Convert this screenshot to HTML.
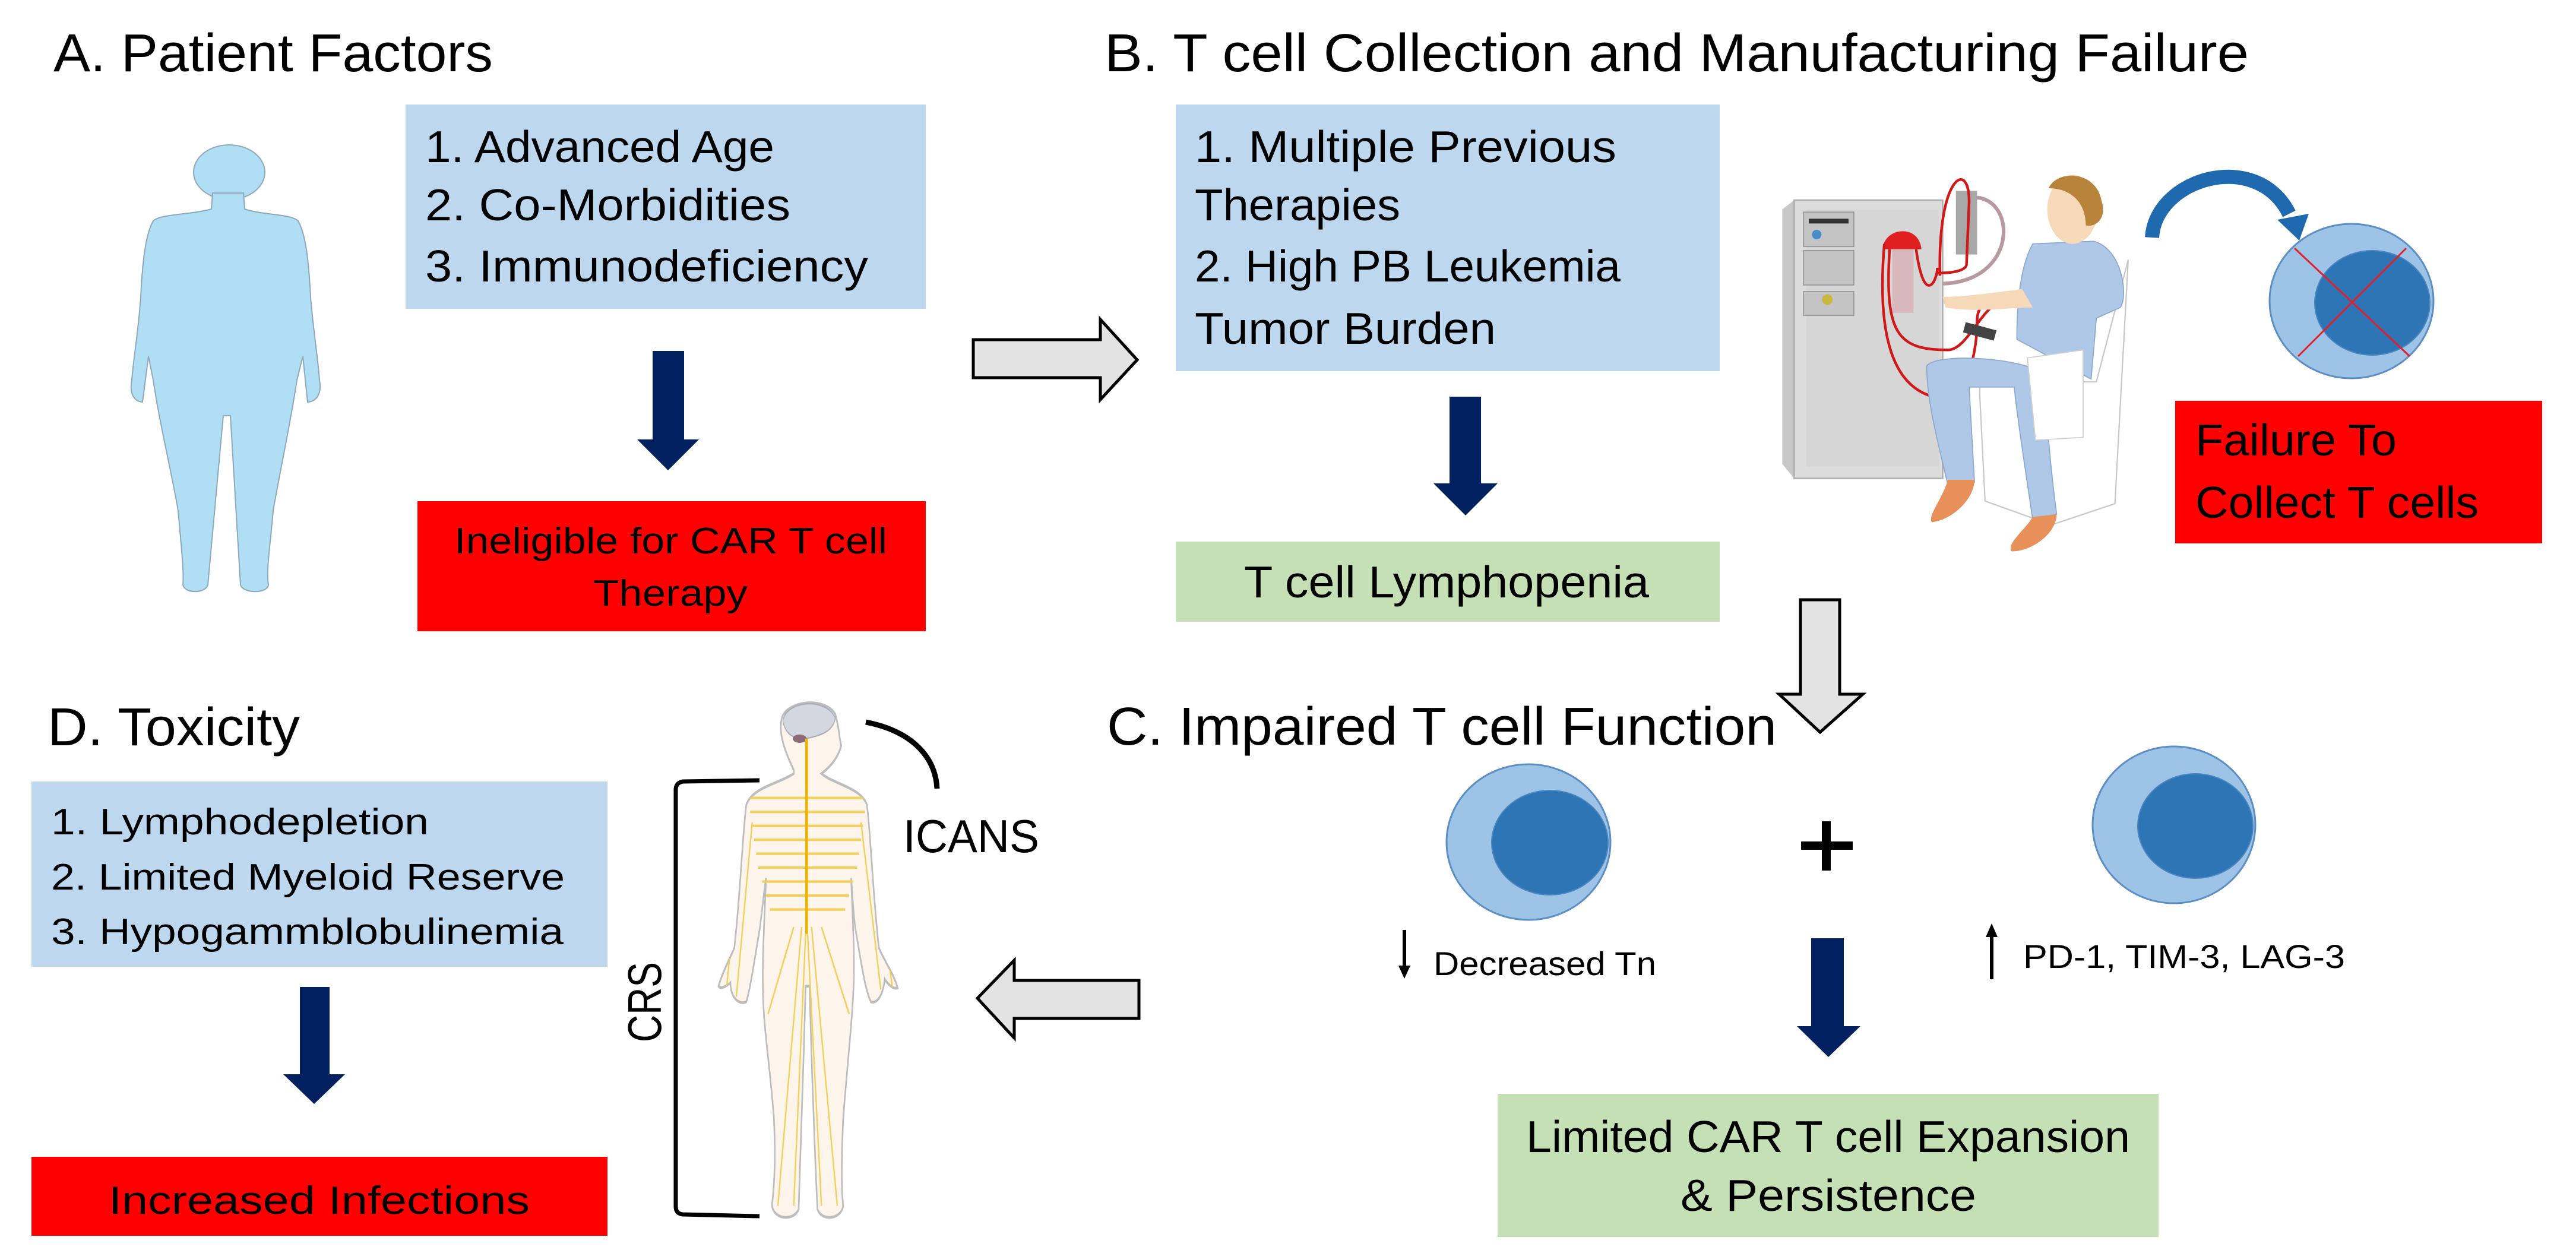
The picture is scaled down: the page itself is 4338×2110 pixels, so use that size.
<!DOCTYPE html>
<html><head><meta charset="utf-8"><style>
html,body{margin:0;padding:0;background:#fff;}
svg{display:block;}
text{font-family:"Liberation Sans",sans-serif;fill:#000;}
</style></head><body>
<svg width="4338" height="2110" viewBox="0 0 4338 2110" xmlns="http://www.w3.org/2000/svg">
<rect width="4338" height="2110" fill="#fff"/>

<!-- Titles -->
<text x="90" y="120" font-size="90" textLength="740" lengthAdjust="spacingAndGlyphs">A. Patient Factors</text>
<text x="1860" y="120" font-size="90" textLength="1927" lengthAdjust="spacingAndGlyphs">B. T cell Collection and Manufacturing Failure</text>
<text x="1864" y="1254" font-size="90" textLength="1128" lengthAdjust="spacingAndGlyphs">C. Impaired T cell Function</text>
<text x="80" y="1255" font-size="90" textLength="425" lengthAdjust="spacingAndGlyphs">D. Toxicity</text>

<!-- A: silhouette -->
<g fill="#B0DEF5" stroke="#8FA9B8" stroke-width="2">
<ellipse cx="386" cy="290" rx="60" ry="46"/>
<path d="M358,325 L356,352 C320,362 270,360 258,372 C245,395 240,440 237,500 C233,560 225,600 222,640 C218,660 224,676 240,677 L250,600 L258,640 C270,720 290,800 300,860 C305,920 310,960 308,985 C312,1000 345,1000 350,985 L376,700 L388,700 L405,985 C410,1000 450,1000 452,985 C448,960 455,920 460,860 C470,800 488,720 500,640 L510,600 L518,677 C535,676 542,660 538,640 C535,600 528,560 523,500 C520,440 515,395 502,372 C490,360 440,362 412,352 L410,325 Z"/>
</g>

<!-- A box -->
<rect x="683" y="176" width="876" height="344" fill="#BDD7EE"/>
<text x="716" y="273" font-size="75" textLength="588" lengthAdjust="spacingAndGlyphs">1. Advanced Age</text>
<text x="716" y="371" font-size="75" textLength="615" lengthAdjust="spacingAndGlyphs">2. Co-Morbidities</text>
<text x="716" y="474" font-size="75" textLength="746" lengthAdjust="spacingAndGlyphs">3. Immunodeficiency</text>
<polygon points="1099,591 1152,591 1152,740 1177,740 1125,792 1073,740 1099,740" fill="#002060"/>
<rect x="703" y="844" width="856" height="219" fill="#FF0000"/>
<text x="765" y="932" font-size="62" textLength="729" lengthAdjust="spacingAndGlyphs">Ineligible for CAR T cell</text>
<text x="999" y="1020" font-size="62" textLength="260" lengthAdjust="spacingAndGlyphs">Therapy</text>

<!-- gray arrow A->B -->
<polygon points="1639,572 1853,572 1853,538 1915,606 1853,673 1853,636 1639,636" fill="#E3E3E3" stroke="#000" stroke-width="5"/>

<!-- B box -->
<rect x="1980" y="176" width="916" height="449" fill="#BDD7EE"/>
<text x="2012" y="273" font-size="75" textLength="710" lengthAdjust="spacingAndGlyphs">1. Multiple Previous</text>
<text x="2012" y="371" font-size="75" textLength="346" lengthAdjust="spacingAndGlyphs">Therapies</text>
<text x="2012" y="474" font-size="75" textLength="717" lengthAdjust="spacingAndGlyphs">2. High PB Leukemia</text>
<text x="2012" y="579" font-size="75" textLength="507" lengthAdjust="spacingAndGlyphs">Tumor Burden</text>
<polygon points="2441,668 2494,668 2494,814 2522,814 2468,868 2414,814 2441,814" fill="#002060"/>
<rect x="1980" y="912" width="916" height="135" fill="#C5E0B4"/>
<text x="2095" y="1006" font-size="75" textLength="682" lengthAdjust="spacingAndGlyphs">T cell Lymphopenia</text>

<!-- apheresis illustration -->
<g transform="translate(2950,250) scale(0.4464)">
  <path d="M115,230 L160,195 L720,195 L720,1245 L160,1245 L115,1190 Z" fill="#C8C8C8"/>
  <rect x="160" y="195" width="560" height="1050" fill="#DCDCDC" stroke="#AFAFAF" stroke-width="6"/>
  <rect x="205" y="230" width="500" height="970" fill="#D6D6D6"/>
  <rect x="195" y="240" width="190" height="130" fill="#C4C4C4" stroke="#999" stroke-width="4"/>
  <rect x="215" y="265" width="150" height="18" fill="#333"/>
  <circle cx="245" cy="325" r="18" fill="#4A8CC8"/>
  <rect x="195" y="385" width="190" height="130" fill="#C4C4C4" stroke="#999" stroke-width="4"/>
  <rect x="195" y="540" width="190" height="90" fill="#C4C4C4" stroke="#999" stroke-width="4"/>
  <circle cx="285" cy="570" r="20" fill="#C8B840"/>
  <rect x="530" y="380" width="80" height="240" fill="#D8B8BC"/>
  <path d="M495,380 C495,300 630,280 640,380 Z" fill="#E02020"/>
  <rect x="770" y="160" width="80" height="240" fill="#A8A8A8"/>
  <path d="M850,185 C1000,200 1000,500 720,510" fill="none" stroke="#B89A9E" stroke-width="14"/>
  <g fill="none" stroke="#D01818" stroke-width="10">
    <path d="M710,480 C700,100 820,40 820,200 L810,440 C800,470 720,470 700,470"/>
    <path d="M500,360 C480,600 490,900 700,940 C800,950 850,800 850,650 C850,560 950,540 1000,600"/>
    <path d="M520,380 C500,700 550,760 740,760 C820,760 880,560 960,580"/>
    <path d="M620,380 C650,600 700,500 700,450"/>
  </g>
  <!-- chair -->
  <path d="M860,930 L880,1330 L1130,1420 L1370,1340 L1420,420 L1300,880 L860,880 Z" fill="#fff" stroke="#C8C8C8" stroke-width="5"/>
  <!-- woman -->
  <path d="M1060,360 L1290,350 C1400,380 1420,560 1390,600 L1300,640 L1280,870 L1000,720 C1000,600 1010,450 1060,360 Z" fill="#AFC8E8" stroke="#8EA9CE" stroke-width="4"/>
  <path d="M1020,530 C950,540 800,560 720,560 L730,600 C850,620 960,600 1060,600 Z" fill="#F6D9B8"/>
  <ellipse cx="1210" cy="230" rx="95" ry="130" fill="#F6D9B8"/>
  <path d="M1120,150 C1150,80 1300,80 1320,200 C1340,260 1300,300 1260,290 C1260,200 1200,150 1120,150 Z" fill="#B8833A"/>
  <path d="M660,820 C700,770 1000,790 1080,840 C1120,900 1100,1000 1150,1380 L1060,1400 C1030,1200 1000,1000 990,900 L820,900 L840,1260 L740,1270 C700,1100 660,950 660,820 Z" fill="#AFC8E8" stroke="#8EA9CE" stroke-width="4"/>
  <path d="M1040,790 L1250,760 L1250,1090 L1070,1100 Z" fill="#fff" stroke="#D0D0D0" stroke-width="4"/>
  <path d="M740,1250 L840,1250 C840,1320 760,1400 680,1410 C660,1390 720,1320 740,1250 Z" fill="#E8905A"/>
  <path d="M1060,1390 L1150,1380 C1150,1450 1060,1520 980,1520 C960,1490 1030,1440 1060,1390 Z" fill="#E8905A"/>
  <rect x="800" y="670" width="120" height="40" fill="#444" transform="rotate(15 860 690)"/>
</g>

<!-- blue curved arrow -->
<path d="M3624,400 C3630,300 3800,250 3855,360" fill="none" stroke="#1F6AAE" stroke-width="24"/>
<polygon points="3835,370 3888,360 3872,405" fill="#1F6AAE"/>

<!-- cell with X -->
<ellipse cx="3960" cy="507" rx="138" ry="130" fill="#9DC3E6" stroke="#5B8FC4" stroke-width="3"/>
<ellipse cx="3995" cy="510" rx="97" ry="88" fill="#2E75B6" stroke="#4A86C0" stroke-width="2"/>
<line x1="3864" y1="418" x2="4058" y2="600" stroke="#E0202A" stroke-width="3"/>
<line x1="4052" y1="418" x2="3870" y2="600" stroke="#E0202A" stroke-width="3"/>

<rect x="3663" y="675" width="618" height="240" fill="#FF0000"/>
<text x="3697" y="767" font-size="75" textLength="339" lengthAdjust="spacingAndGlyphs">Failure To</text>
<text x="3697" y="872" font-size="75" textLength="477" lengthAdjust="spacingAndGlyphs">Collect T cells</text>

<!-- gray arrow B->C (down) -->
<polygon points="3032,1010 3098,1010 3098,1169 3137,1169 3065,1233 2996,1169 3032,1169" fill="#E3E3E3" stroke="#000" stroke-width="5"/>

<!-- C cells -->
<ellipse cx="2574" cy="1418" rx="138" ry="131" fill="#9DC3E6" stroke="#5B8FC4" stroke-width="3"/>
<ellipse cx="2610" cy="1419" rx="98" ry="88" fill="#2E75B6" stroke="#4A86C0" stroke-width="2"/>
<ellipse cx="3661" cy="1389" rx="137" ry="132" fill="#9DC3E6" stroke="#5B8FC4" stroke-width="3"/>
<ellipse cx="3697" cy="1391" rx="97" ry="88" fill="#2E75B6" stroke="#4A86C0" stroke-width="2"/>
<rect x="3068" y="1383" width="15" height="83" fill="#000"/>
<rect x="3033" y="1417" width="87" height="14" fill="#000"/>

<!-- small arrows -->
<line x1="2365" y1="1566" x2="2365" y2="1632" stroke="#000" stroke-width="6"/>
<polygon points="2355,1626 2375,1626 2365,1648" fill="#000"/>
<text x="2414" y="1642" font-size="56" textLength="375" lengthAdjust="spacingAndGlyphs">Decreased Tn</text>
<line x1="3354" y1="1572" x2="3354" y2="1649" stroke="#000" stroke-width="6"/>
<polygon points="3344,1578 3364,1578 3354,1555" fill="#000"/>
<text x="3407" y="1630" font-size="56" textLength="542" lengthAdjust="spacingAndGlyphs">PD-1, TIM-3, LAG-3</text>

<polygon points="3050,1580 3105,1580 3105,1728 3133,1728 3079,1780 3026,1728 3050,1728" fill="#002060"/>
<rect x="2522" y="1842" width="1113" height="241" fill="#C5E0B4"/>
<text x="2570" y="1940" font-size="75" textLength="1017" lengthAdjust="spacingAndGlyphs">Limited CAR T cell Expansion</text>
<text x="2830" y="2039" font-size="75" textLength="498" lengthAdjust="spacingAndGlyphs">&amp;  Persistence</text>

<!-- gray arrow C->D (left) -->
<polygon points="1918,1651 1708,1651 1708,1617 1646,1681 1708,1748 1708,1715 1918,1715" fill="#E3E3E3" stroke="#000" stroke-width="5"/>

<!-- D box -->
<rect x="53" y="1316" width="970" height="312" fill="#BDD7EE"/>
<text x="86" y="1405" font-size="62" textLength="636" lengthAdjust="spacingAndGlyphs">1. Lymphodepletion</text>
<text x="86" y="1498" font-size="62" textLength="865" lengthAdjust="spacingAndGlyphs">2. Limited Myeloid Reserve</text>
<text x="86" y="1590" font-size="62" textLength="863" lengthAdjust="spacingAndGlyphs">3. Hypogammblobulinemia</text>
<polygon points="505,1662 555,1662 555,1809 581,1809 529,1859 477,1809 505,1809" fill="#002060"/>
<rect x="53" y="1948" width="970" height="133" fill="#FF0000"/>
<text x="183" y="2044" font-size="66" textLength="709" lengthAdjust="spacingAndGlyphs">Increased Infections</text>

<!-- bracket -->
<path d="M1279,1314 L1150,1316 Q1138,1318 1138,1330 L1138,2032 Q1138,2044 1150,2045 L1279,2048" fill="none" stroke="#000" stroke-width="7"/>
<text transform="translate(1113,1755) rotate(-90)" font-size="80" textLength="135" lengthAdjust="spacingAndGlyphs">CRS</text>

<!-- nerve figure -->
<defs>
<clipPath id="bodyclip">
<path id="bodyp" d="M560,250 C520,200 480,150 500,100 C530,50 720,40 770,90 C790,130 790,160 800,180 C790,200 770,230 700,260 C760,290 900,300 930,350 C950,450 960,600 990,760 C1020,800 1070,840 1085,875 C1060,880 1030,860 1020,850 C1010,900 980,920 950,915 C920,880 900,800 870,700 C860,650 855,600 850,560 C860,700 870,800 860,900 C850,1000 830,1100 810,1250 C800,1380 800,1450 810,1500 C800,1540 700,1545 680,1510 C670,1400 650,1100 640,870 L620,870 C610,1100 590,1400 585,1510 C560,1545 460,1540 450,1500 C460,1450 470,1380 460,1250 C440,1100 410,1000 405,900 C400,800 410,700 420,560 C410,600 400,650 390,700 C360,800 340,880 320,915 C280,925 240,900 240,860 C220,870 190,880 180,870 C200,830 230,800 260,760 C290,600 300,450 320,350 C350,300 480,290 560,260 Z"/>
</clipPath>
</defs>
<g transform="translate(1150,1150) scale(0.3333,0.587)">
  <use href="#bodyp" fill="#FDF4EC" stroke="#BDBDBD" stroke-width="8"/>
  <g clip-path="url(#bodyclip)" stroke="#F3CF5A" stroke-width="7" fill="none">
    <path d="M330,330 L930,330 M340,370 L920,370 M350,410 L910,410 M360,450 L900,450 M370,490 L890,490 M380,530 L880,530 M400,570 L860,570 M420,610 L840,610 M440,650 L820,650"/>
    <path d="M300,400 L220,880 M350,400 L270,900 M900,400 L1000,880 M950,420 L1060,880"/>
    <path d="M600,700 L480,1500 M620,720 L560,1500 M650,700 L780,1500 M630,720 L700,1500 M560,700 L430,950 M700,700 L840,950"/>
  </g>
  <path d="M505,110 C520,50 720,40 770,100 C760,140 700,150 620,160 C560,160 520,150 505,110 Z" fill="#D3D7E0" stroke="#A8ADB8" stroke-width="4"/>
  <ellipse cx="590" cy="160" rx="35" ry="12" fill="#8E6A78"/>
  <line x1="625" y1="160" x2="625" y2="720" stroke="#EFB400" stroke-width="14"/>
</g>

<!-- ICANS arc -->
<path d="M1458,1216 C1530,1230 1575,1270 1578,1328" fill="none" stroke="#000" stroke-width="9"/>
<text x="1521" y="1435" font-size="78" textLength="229" lengthAdjust="spacingAndGlyphs">ICANS</text>
</svg>
</body></html>
